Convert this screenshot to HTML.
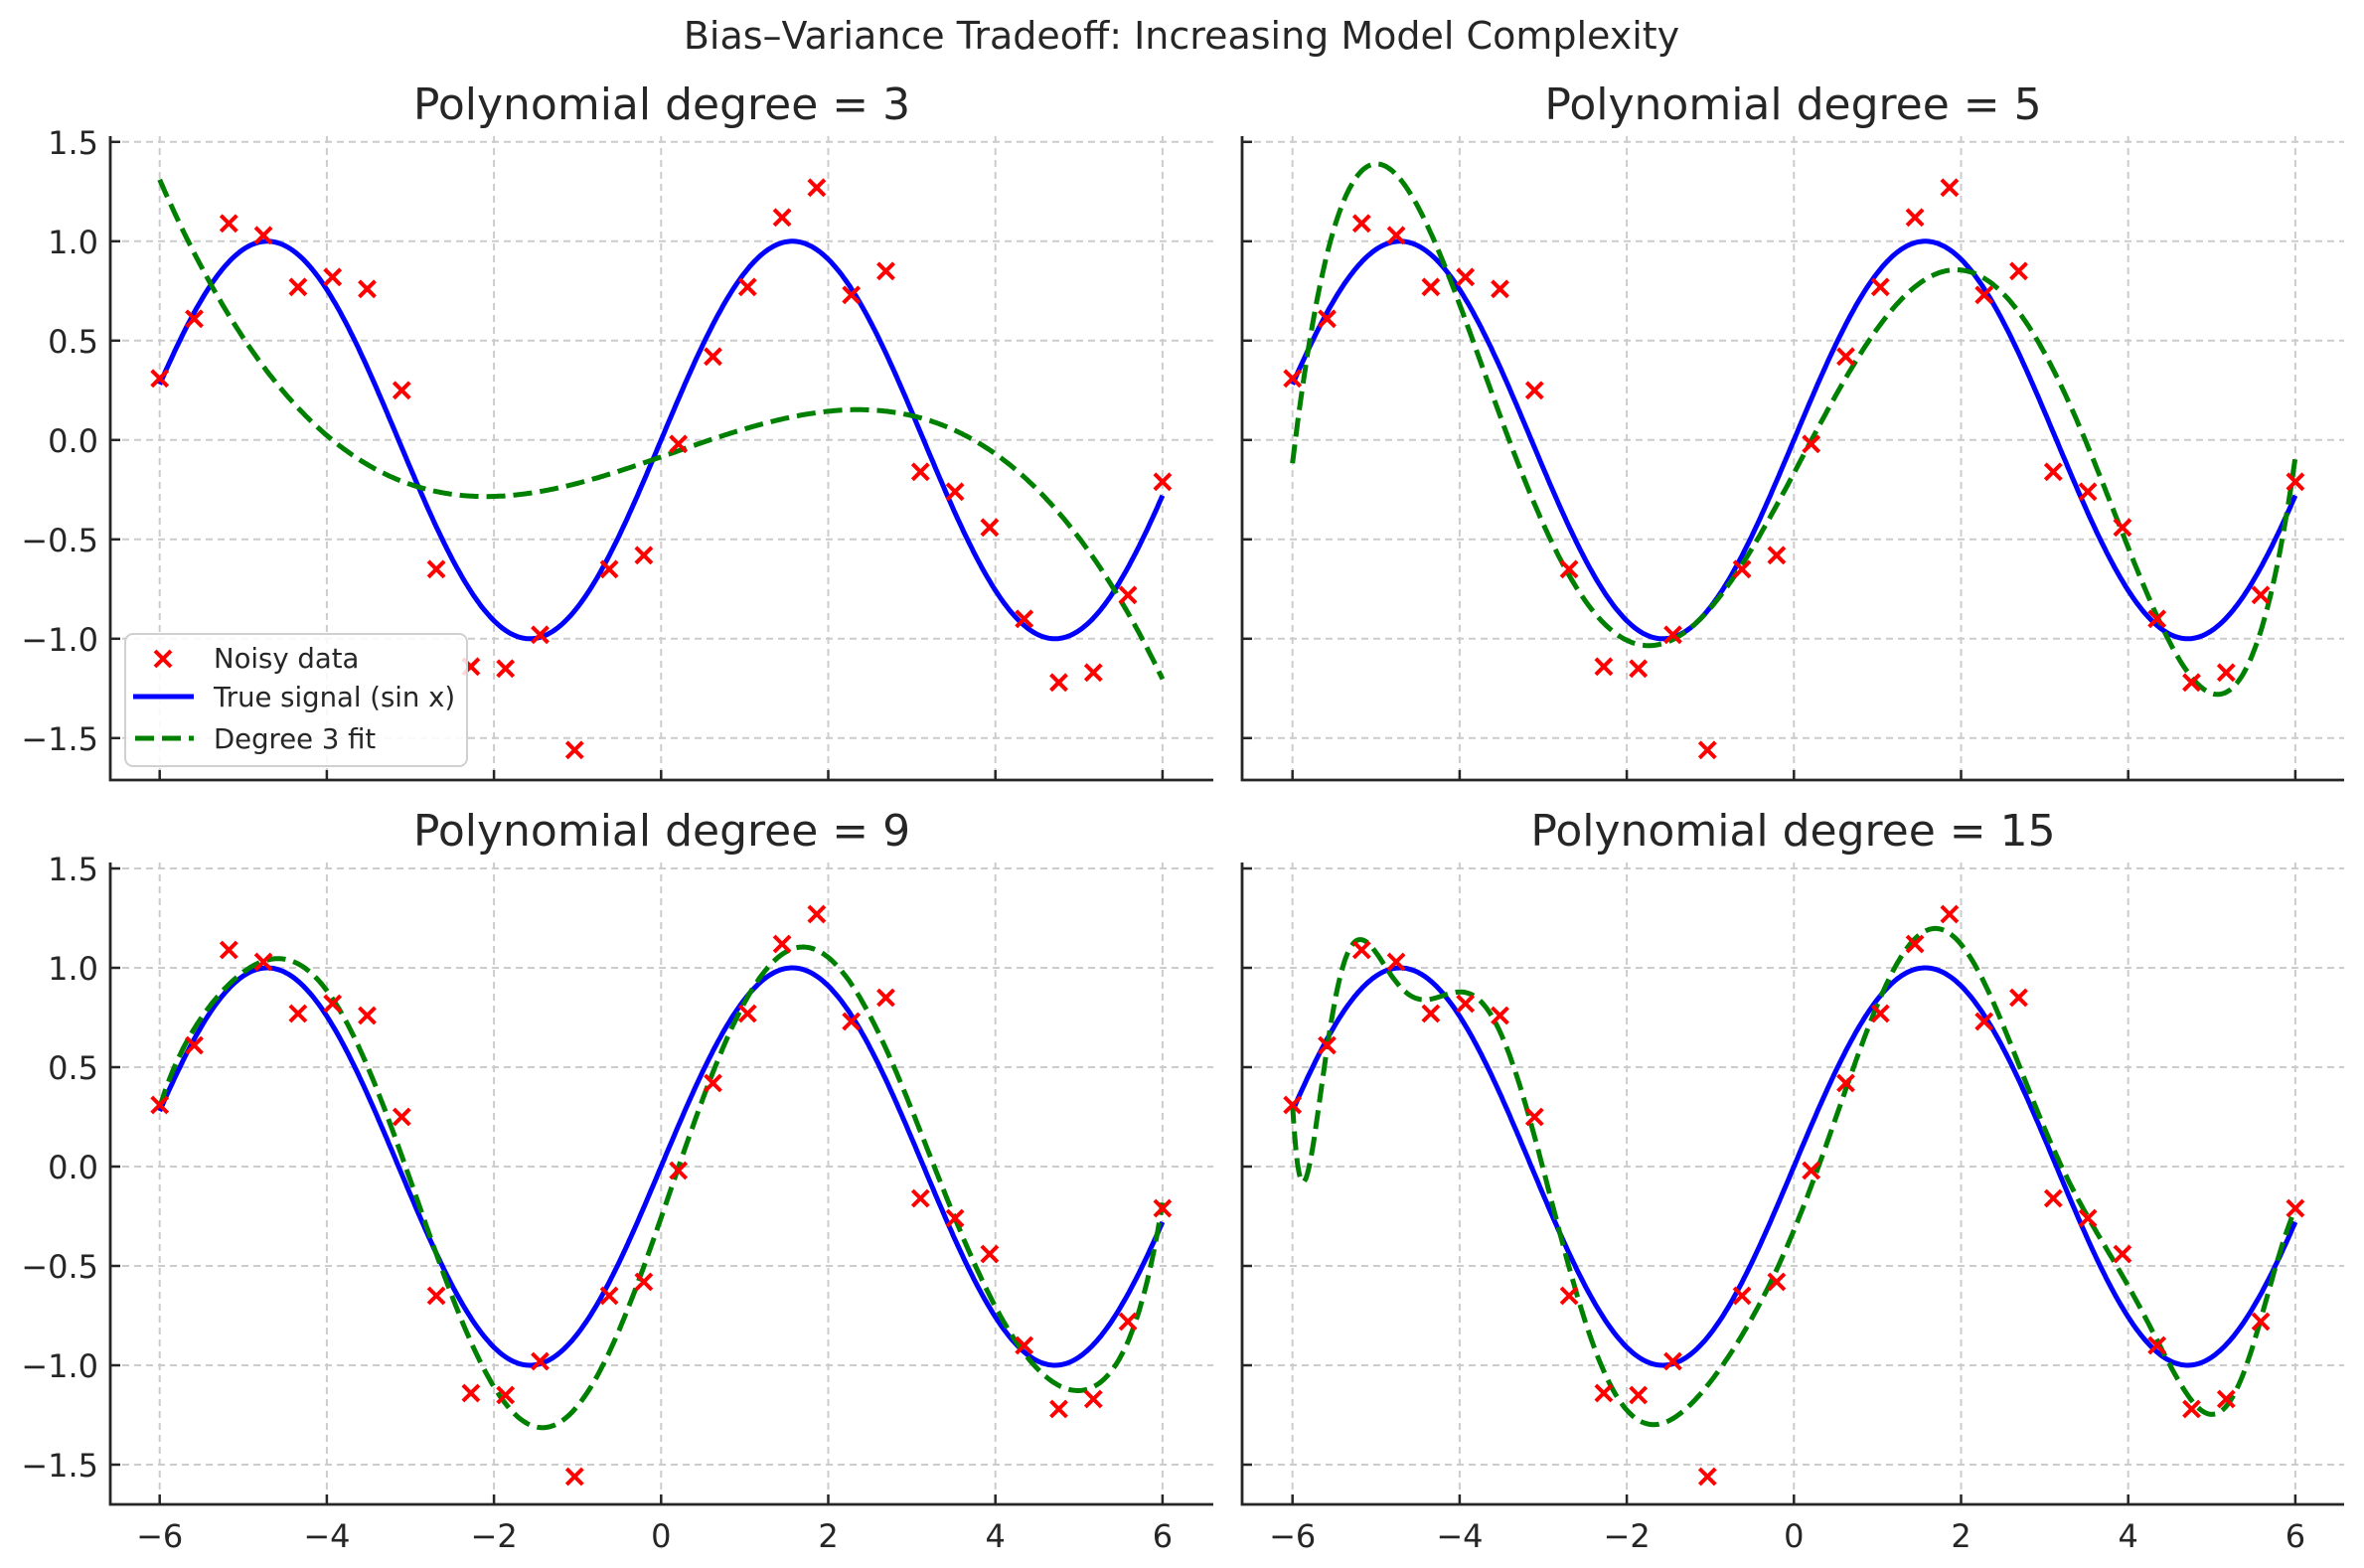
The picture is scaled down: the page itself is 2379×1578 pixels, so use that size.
<!DOCTYPE html>
<html><head><meta charset="utf-8">
<style>
html,body{margin:0;padding:0;background:#fff;}
svg{display:block;}
text{font-family:"DejaVu Sans","Liberation Sans",sans-serif;fill:#262626;}
</style></head>
<body>
<svg id="s" width="2379" height="1578" viewBox="0 0 2379 1578" xmlns="http://www.w3.org/2000/svg">
<rect width="2379" height="1578" fill="#fff"/>
<text x="1189" y="49" font-size="38" text-anchor="middle">Bias–Variance Tradeoff: Increasing Model Complexity</text>
<g id="g"></g>
</svg>
<script>
var X=[],Y=[0.31,0.61,1.09,1.03,0.77,0.82,0.76,0.25,-0.65,-1.14,-1.15,-0.98,-1.56,-0.65,-0.58,-0.02,0.42,0.77,1.12,1.27,0.73,0.85,-0.16,-0.26,-0.44,-0.90,-1.22,-1.17,-0.78,-0.21];
for(var i=0;i<30;i++)X.push(-6+12*i/29);
function fit(deg){
  var m=30,n=deg+1,A=[],b=Y.slice();
  for(var i=0;i<m;i++){A.push([]);var t=X[i]/6;for(var j=0;j<n;j++)A[i].push(Math.pow(t,j));}
  for(var k=0;k<n;k++){
    var nrm=0;for(var i=k;i<m;i++)nrm+=A[i][k]*A[i][k];nrm=Math.sqrt(nrm);
    var a=A[k][k]>0?-nrm:nrm;var v=[];for(var i=0;i<m;i++)v.push(i<k?0:A[i][k]);v[k]-=a;
    var vv=0;for(var i=k;i<m;i++)vv+=v[i]*v[i];if(vv==0)continue;
    for(var j=k;j<n;j++){var s=0;for(var i=k;i<m;i++)s+=v[i]*A[i][j];s=2*s/vv;for(var i=k;i<m;i++)A[i][j]-=s*v[i];}
    var s=0;for(var i=k;i<m;i++)s+=v[i]*b[i];s=2*s/vv;for(var i=k;i<m;i++)b[i]-=s*v[i];
  }
  var c=new Array(n);
  for(var k=n-1;k>=0;k--){var s=b[k];for(var j=k+1;j<n;j++)s-=A[k][j]*c[j];c[k]=s/A[k][k];}
  return function(x){var t=x/6,r=0;for(var j=n-1;j>=0;j--)r=r*t+c[j];return r;};
}
var panels=[
 {L:111,R:1221,T:137,B:785,x6:160.7,y0:442.8,deg:3,xl:false,yl:true,leg:true},
 {L:1250,R:2359,T:137,B:785,x6:1300.7,y0:442.8,deg:5,xl:false,yl:false},
 {L:111,R:1221,T:868,B:1514,x6:160.7,y0:1174,deg:9,xl:true,yl:true},
 {L:1250,R:2359,T:868,B:1514,x6:1300.7,y0:1174,deg:15,xl:true,yl:false}];
var h='';
panels.forEach(function(p){
  var sx=function(x){return p.x6+(x+6)*84.1;},sy=function(y){return p.y0-y*200;};
  for(var x=-6;x<=6;x+=2)h+='<line x1="'+sx(x)+'" x2="'+sx(x)+'" y1="'+p.T+'" y2="'+p.B+'" stroke="#cccccc" stroke-width="2" stroke-dasharray="7,5"/>';
  for(var y=-1.5;y<=1.51;y+=0.5)h+='<line x1="'+p.L+'" x2="'+p.R+'" y1="'+sy(y)+'" y2="'+sy(y)+'" stroke="#cccccc" stroke-width="2" stroke-dasharray="7,5"/>';
  for(var x=-6;x<=6;x+=2){h+='<line x1="'+sx(x)+'" x2="'+sx(x)+'" y1="'+p.B+'" y2="'+(p.B-10)+'" stroke="#262626" stroke-width="2.5"/>';
    if(p.xl)h+='<text x="'+sx(x)+'" y="'+(p.B+43)+'" font-size="32" text-anchor="middle">'+(x<0?'−'+(-x):x)+'</text>';}
  for(var y=-1.5;y<=1.51;y+=0.5){h+='<line x1="'+p.L+'" x2="'+(p.L+10)+'" y1="'+sy(y)+'" y2="'+sy(y)+'" stroke="#262626" stroke-width="2.5"/>';
    if(p.yl){var s=Math.abs(y).toFixed(1);h+='<text x="'+(p.L-12)+'" y="'+(sy(y)+12)+'" font-size="32" text-anchor="end">'+(y<-0.01?'−'+s:s)+'</text>';}}
  var d='',f=fit(p.deg),g='';
  for(var i=0;i<=600;i++){var x=-6+12*i/600;d+=(i?'L':'M')+sx(x).toFixed(1)+' '+sy(Math.sin(x)).toFixed(1);g+=(i?'L':'M')+sx(x).toFixed(1)+' '+sy(f(x)).toFixed(1);}
  h+='<path d="'+d+'" fill="none" stroke="#0000ff" stroke-width="5"/>';
  h+='<path d="'+g+'" fill="none" stroke="#008000" stroke-width="5" stroke-dasharray="19,8"/>';
  for(var i=0;i<30;i++){var cx=sx(X[i]),cy=sy(Y[i]);h+='<path d="M'+(cx-8)+' '+(cy-8)+'L'+(cx+8)+' '+(cy+8)+'M'+(cx-8)+' '+(cy+8)+'L'+(cx+8)+' '+(cy-8)+'" stroke="#ff0000" stroke-width="4"/>';}
  h+='<path d="M'+p.L+' '+p.T+'L'+p.L+' '+p.B+'L'+p.R+' '+p.B+'" fill="none" stroke="#262626" stroke-width="2.8"/>';
  h+='<text x="'+((p.L+p.R)/2)+'" y="'+(p.T-17)+'" font-size="44" text-anchor="middle">Polynomial degree = '+p.deg+'</text>';
  if(p.leg){
    h+='<rect x="126" y="638" width="344" height="133" rx="8" fill="#fff" fill-opacity="0.85" stroke="#d0d0d0" stroke-width="2"/>';
    h+='<path d="M156 655L172 671M156 671L172 655" stroke="#ff0000" stroke-width="4"/>';
    h+='<text x="215" y="672" font-size="27.5">Noisy data</text>';
    h+='<line x1="134" x2="195" y1="701" y2="701" stroke="#0000ff" stroke-width="5"/>';
    h+='<text x="215" y="711" font-size="27.5">True signal (sin x)</text>';
    h+='<line x1="136" x2="195" y1="743" y2="743" stroke="#008000" stroke-width="5" stroke-dasharray="19,8"/>';
    h+='<text x="215" y="753" font-size="27.5">Degree 3 fit</text>';
  }
});
document.getElementById('g').innerHTML=h;
</script>
</body></html>
